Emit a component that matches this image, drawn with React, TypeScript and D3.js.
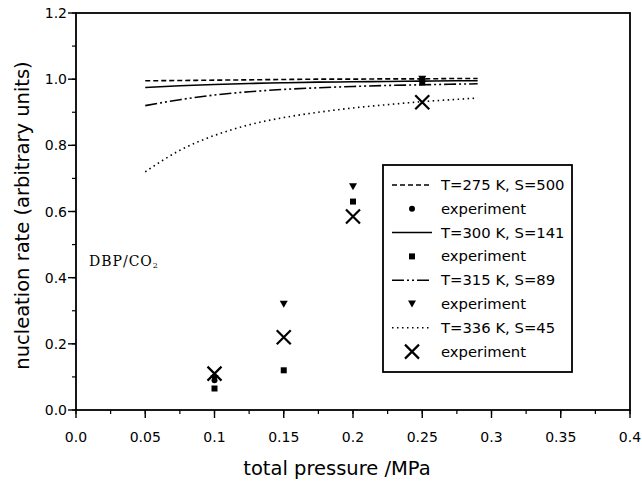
import React from "react";
import * as d3 from "d3";

const W = 642;
const H = 487;

// Theory curves (x = total pressure / MPa)
const curveX = [0.05, 0.075, 0.1, 0.125, 0.15, 0.175, 0.2, 0.225, 0.25, 0.275, 0.29];
const curve275 = [0.995, 0.996, 0.997, 0.998, 0.999, 1.0, 1.0, 1.001, 1.001, 1.002, 1.002];
const curve300 = [0.975, 0.98, 0.984, 0.987, 0.989, 0.991, 0.992, 0.993, 0.994, 0.995, 0.995];
const curve315 = [0.92, 0.938, 0.952, 0.962, 0.969, 0.974, 0.978, 0.981, 0.983, 0.985, 0.986];
const curve336 = [0.72, 0.785, 0.83, 0.862, 0.884, 0.9, 0.913, 0.923, 0.932, 0.939, 0.943];

// Experiments
const expCircle: [number, number][] = [[0.1, 0.09], [0.25, 1.0]];
const expSquare: [number, number][] = [[0.1, 0.065], [0.15, 0.12], [0.2, 0.63], [0.25, 0.99]];
const expTriangle: [number, number][] = [[0.1, 0.095], [0.15, 0.32], [0.2, 0.675], [0.25, 1.0]];
const expCross: [number, number][] = [[0.1, 0.11], [0.15, 0.22], [0.2, 0.585], [0.25, 0.93]];

const xTicks = [0, 0.05, 0.1, 0.15, 0.2, 0.25, 0.3, 0.35, 0.4];
const xTickLabels = ["0.0", "0.05", "0.1", "0.15", "0.2", "0.25", "0.3", "0.35", "0.4"];
const yTicks = [0, 0.2, 0.4, 0.6, 0.8, 1.0, 1.2];
const yTickLabels = ["0.0", "0.2", "0.4", "0.6", "0.8", "1.0", "1.2"];

const legendLabels = [
  "T=275 K, S=500",
  "experiment",
  "T=300 K, S=141",
  "experiment",
  "T=315 K, S=89",
  "experiment",
  "T=336 K, S=45",
  "experiment",
];

const FONT = "'DejaVu Sans', Verdana, sans-serif";

export default function App() {
  const x = d3.scaleLinear().domain([0, 0.4]).range([76, 630]);
  const y = d3.scaleLinear().domain([0, 1.2]).range([410, 13]);

  const line = d3
    .line<number>()
    .x((_, i) => x(curveX[i]))
    .y((d) => y(d))
    .curve(d3.curveMonotoneX);

  const curves = [
    { data: curve275, dash: "5,3" },
    { data: curve300, dash: "none" },
    { data: curve315, dash: "12,3,2,3,2,3" },
    { data: curve336, dash: "1.5,3.5" },
  ];

  const minorX = d3.range(0, 0.4001, 0.025);
  const minorY = d3.range(0, 1.2001, 0.1);

  const circleM = (cx: number, cy: number, k: string) => (
    <circle key={k} cx={cx} cy={cy} r={3} fill="#000" />
  );
  const squareM = (cx: number, cy: number, k: string) => (
    <rect key={k} x={cx - 3} y={cy - 3} width={6} height={6} fill="#000" />
  );
  const triM = (cx: number, cy: number, k: string) => (
    <path key={k} d={`M${cx - 4},${cy - 3.5}L${cx + 4},${cy - 3.5}L${cx},${cy + 3.5}Z`} fill="#000" />
  );
  const crossM = (cx: number, cy: number, k: string) => (
    <path
      key={k}
      d={`M${cx - 7},${cy - 7}L${cx + 7},${cy + 7}M${cx + 7},${cy - 7}L${cx - 7},${cy + 7}`}
      stroke="#000"
      strokeWidth={2.2}
    />
  );

  const legX = 383;
  const legY = 165;
  const legW = 189;
  const legH = 207;
  const rowY0 = 185;
  const rowStep = 23.8;

  return (
    <svg
      width={W}
      height={H}
      style={{ position: "absolute", left: 0, top: 0, background: "#fff" }}
      fontFamily={FONT}
    >
      <rect width={W} height={H} fill="#fff" />
      {/* frame */}
      <rect
        x={x(0)}
        y={y(1.2)}
        width={x(0.4) - x(0)}
        height={y(0) - y(1.2)}
        fill="none"
        stroke="#000"
        strokeWidth={1.8}
      />
      {/* x ticks */}
      {minorX.map((v, i) => (
        <line key={"mx" + i} x1={x(v)} x2={x(v)} y1={y(0)} y2={y(0) + 4} stroke="#000" strokeWidth={1.2} />
      ))}
      {xTicks.map((v, i) => (
        <g key={"xt" + i}>
          <line x1={x(v)} x2={x(v)} y1={y(0)} y2={y(0) + 8} stroke="#000" strokeWidth={1.4} />
          <text x={x(v)} y={442} textAnchor="middle" fontSize={14}>
            {xTickLabels[i]}
          </text>
        </g>
      ))}
      {/* y ticks */}
      {minorY.map((v, i) => (
        <line key={"my" + i} x1={x(0) - 4} x2={x(0)} y1={y(v)} y2={y(v)} stroke="#000" strokeWidth={1.2} />
      ))}
      {yTicks.map((v, i) => (
        <g key={"yt" + i}>
          <line x1={x(0) - 8} x2={x(0)} y1={y(v)} y2={y(v)} stroke="#000" strokeWidth={1.4} />
          <text x={x(0) - 9} y={y(v) + 5} textAnchor="end" fontSize={14}>
            {yTickLabels[i]}
          </text>
        </g>
      ))}
      {/* axis titles */}
      <text x={337} y={475} textAnchor="middle" fontSize={19.5}>
        total pressure /MPa
      </text>
      <text
        transform={`translate(29,${(y(0) + y(1.2)) / 2 + 4}) rotate(-90)`}
        textAnchor="middle"
        fontSize={19.5}
      >
        nucleation rate (arbitrary units)
      </text>
      {/* annotation */}
      <text
        x={89}
        y={266}
        fontSize={14}
        letterSpacing={1}
        fontFamily="'DejaVu Serif', 'Liberation Serif', serif"
      >
        DBP/CO
        <tspan fontSize={8} dy={2}>
          2
        </tspan>
      </text>
      {/* curves */}
      {curves.map((c, i) => (
        <path
          key={"c" + i}
          d={line(c.data) || ""}
          fill="none"
          stroke="#000"
          strokeWidth={1.6}
          strokeDasharray={c.dash}
        />
      ))}
      {/* experimental points */}
      {expCircle.map((d, i) => circleM(x(d[0]), y(d[1]), "ec" + i))}
      {expSquare.map((d, i) => squareM(x(d[0]), y(d[1]), "es" + i))}
      {expTriangle.map((d, i) => triM(x(d[0]), y(d[1]), "et" + i))}
      {expCross.map((d, i) => crossM(x(d[0]), y(d[1]), "ex" + i))}
      {/* legend */}
      <rect x={legX} y={legY} width={legW} height={legH} fill="#fff" stroke="#000" strokeWidth={1.8} />
      {legendLabels.map((lab, i) => {
        const ry = rowY0 + i * rowStep;
        const mx = 412;
        let sym: React.ReactNode = null;
        if (i % 2 === 0) {
          sym = (
            <line
              x1={392}
              x2={432}
              y1={ry}
              y2={ry}
              stroke="#000"
              strokeWidth={1.5}
              strokeDasharray={curves[i / 2].dash}
            />
          );
        } else if (i === 1) sym = circleM(mx, ry, "l1");
        else if (i === 3) sym = squareM(mx, ry, "l3");
        else if (i === 5) sym = triM(mx, ry, "l5");
        else sym = crossM(mx, ry, "l7");
        return (
          <g key={"lg" + i}>
            {sym}
            <text x={441} y={ry + 5} fontSize={14.8}>
              {lab}
            </text>
          </g>
        );
      })}
    </svg>
  );
}
